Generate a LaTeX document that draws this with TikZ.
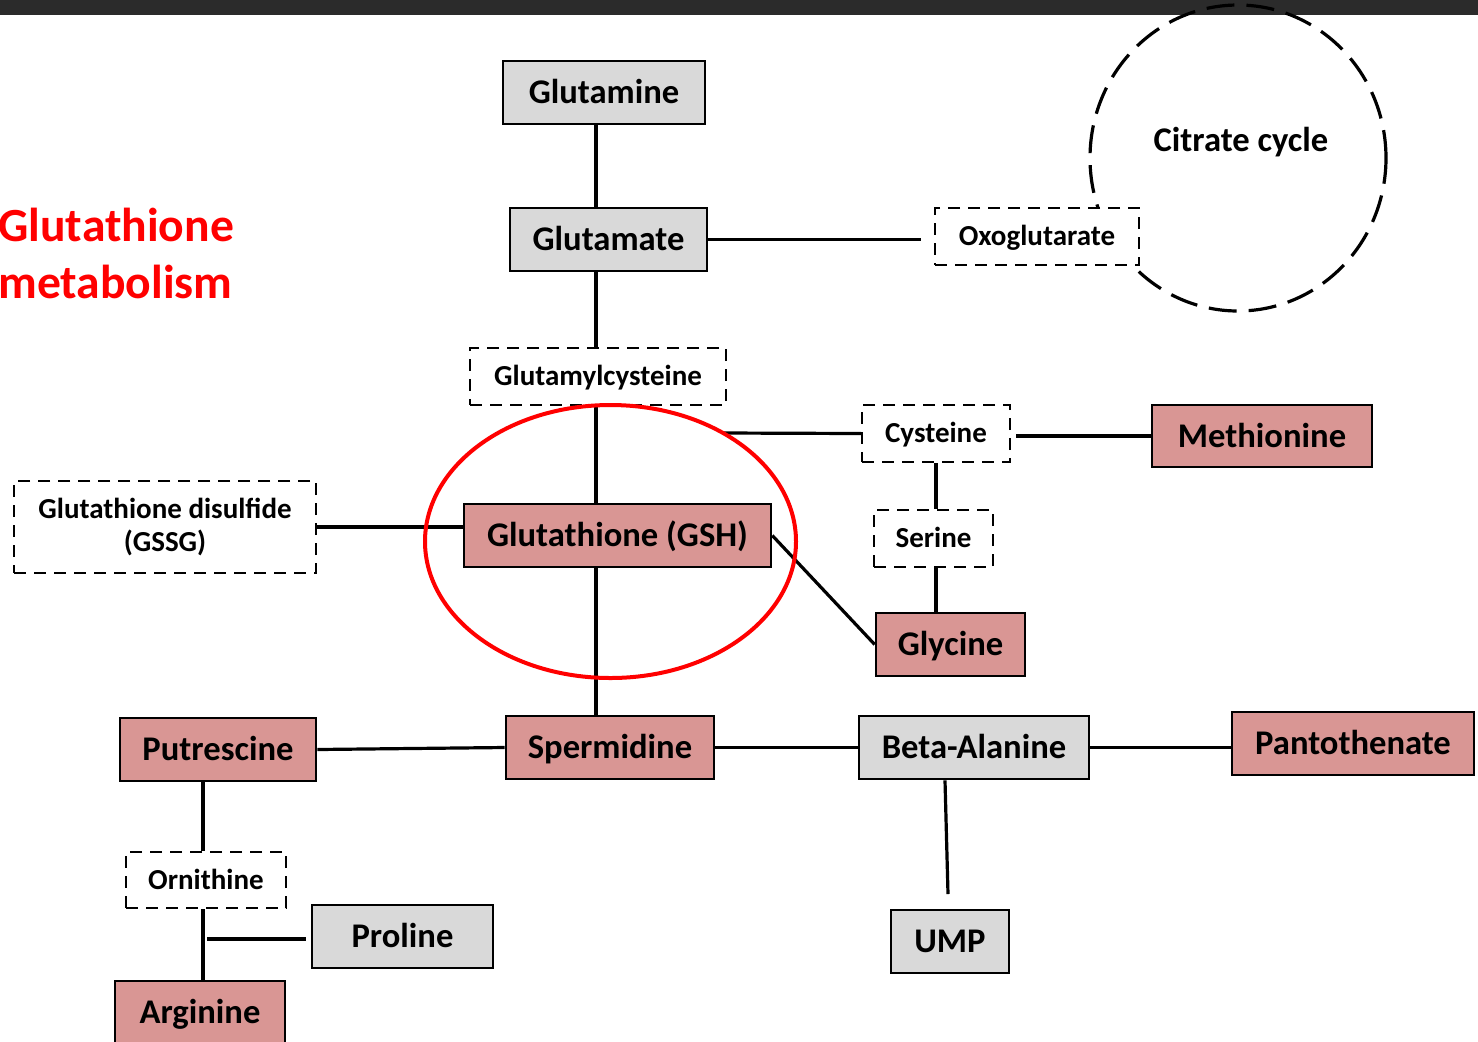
\documentclass[tikz,border=0pt]{standalone}
\usepackage{fontspec}
\setmainfont{Carlito}
\usetikzlibrary{positioning}
\definecolor{boxgray}{HTML}{D9D9D9}
\definecolor{boxpink}{HTML}{D99694}
\definecolor{topbar}{HTML}{2B2B2B}
\tikzset{
    labL/.style={font=\bfseries\fontsize{17.3}{20}\selectfont, text height=11.1pt, text depth=0pt},
    labS/.style={font=\bfseries\fontsize{14.5}{16.5}\selectfont, text height=9.3pt, text depth=0pt},
    labT/.style={font=\bfseries\fontsize{23.8}{27}\selectfont, text=red, inner sep=0pt},
    boxG/.style 2 args={labL, draw, line width=1.3pt, fill=boxgray, inner sep=0pt,
        minimum width=#1, minimum height=#2},
    boxR/.style 2 args={labL, draw, line width=1.3pt, fill=boxpink, inner sep=0pt,
        minimum width=#1, minimum height=#2},
    boxD/.style 2 args={labS, draw, line width=1pt, dash pattern=on 6pt off 4pt, fill=white,
        inner sep=0pt, minimum width=#1, minimum height=#2},
    link/.style={line width=1.6pt},
    cycleline/.style={line width=1.6pt, dash pattern=on 14pt off 6pt},
    hilite/.style={line width=2pt, draw=red}
}

\begin{document}
\begin{tikzpicture}[x=0.5pt, y=-0.5pt]
    \useasboundingbox (0,0) rectangle (1478,1041);
    \fill[topbar] (0,0) rectangle (1478,15);
    % citrate cycle
    \draw[cycleline] (1238,158) ellipse [x radius=74pt, y radius=76.5pt];
    \node[labL] (tca) at (1241,140) {Citrate cycle};
    % title
    \node[labT, anchor=base west] (title1) at (-2,241) {Glutathione};
    \node[labT, anchor=base west] (title2) at (-2,298) {metabolism};
    % metabolites
    \node[boxG={101pt}{31.5pt}] (gln) at (604,92.5) {Glutamine};
    \node[boxG={98.5pt}{31.5pt}] (glu) at (608.5,239.5) {Glutamate};
    \node[boxD={102pt}{28.5pt}] (oxo) at (1037,236.5) {Oxoglutarate};
    \node[boxD={128pt}{28.5pt}] (gcys) at (598,376.5) {Glutamylcysteine};
    \node[boxR={153.5pt}{31.5pt}] (gsh) at (617.5,535.5) {Glutathione (GSH)};
    \node[boxD={74pt}{28.5pt}] (cys) at (936,433.5) {Cysteine};
    \node[boxR={110pt}{31pt}] (meth) at (1262,436) {Methionine};
    \node[boxD={59.5pt}{28.5pt}] (ser) at (933.5,538.5) {Serine};
    \node[boxR={74.5pt}{31.5pt}] (gly) at (950.5,644.5) {Glycine};
    \node[boxD={151pt}{46pt}, text height=, text depth=, align=center] (gssg) at (165,527)
        {Glutathione disulfide\\(GSSG)};
    \node[boxR={98pt}{31.5pt}] (putr) at (218,749.5) {Putrescine};
    \node[boxR={104pt}{31.5pt}] (sperm) at (610,747.5) {Spermidine};
    \node[boxG={115pt}{31.5pt}] (beta) at (974,747.5) {Beta-Alanine};
    \node[boxR={121pt}{31.5pt}] (panto) at (1353,743.5) {Pantothenate};
    \node[boxD={80pt}{28pt}] (orn) at (206,880) {Ornithine};
    \node[boxG={90.5pt}{31.5pt}] (pro) at (402.5,936.5) {Proline};
    \node[boxR={85pt}{31.5pt}] (arg) at (200,1012.5) {Arginine};
    \node[boxG={59pt}{31.5pt}] (ump) at (950,941.5) {UMP};
    % connectors
    \coordinate (colA) at (596,0);
    \coordinate (colC) at (936,0);
    \coordinate (colU) at (945,0);
    \coordinate (colO) at (203,0);
    \coordinate (oxo0) at (921,0);
    \coordinate (meth0) at (1016,0);
    \coordinate (pro1) at (306,0);
    \coordinate (cys0) at (724,433);
    \coordinate (ump0) at (948,894);
    \coordinate (pro0) at (207,939);
    \draw[link] (gln.south -| colA) -- (glu.north -| colA);
    \draw[link] (glu.south -| colA) -- (gcys.north -| colA);
    \draw[link] (gcys.south -| colA) -- (gsh.north -| colA);
    \draw[link] (gsh.south -| colA) -- (sperm.north -| colA);
    \draw[link] (glu.east) -- (glu.east -| oxo0);
    \draw[link] (gssg.east) -- (gssg.east -| gsh.west);
    \draw[link] (cys0) -- (cys.west);
    \draw[link] (meth.west -| meth0) -- (meth.west);
    \draw[link] (cys.south -| colC) -- (ser.north -| colC);
    \draw[link] (ser.south -| colC) -- (gly.north -| colC);
    \draw[link] (gsh.east) -- (gly.west);
    \draw[link] (putr.east) -- (sperm.west);
    \draw[link] (sperm.east) -- (beta.west);
    \draw[link] (beta.east) -- (beta.east -| panto.west);
    \draw[link] (beta.south -| colU) -- (ump0);
    \draw[link] (putr.south -| colO) -- (orn.north -| colO);
    \draw[link] (orn.south -| colO) -- (arg.north -| colO);
    \draw[link] (pro0) -- (pro0 -| pro1);
    % highlight
    \draw[hilite] (610.5,541.5) ellipse [x radius=92.75pt, y radius=68.25pt];
\end{tikzpicture}
\end{document}
